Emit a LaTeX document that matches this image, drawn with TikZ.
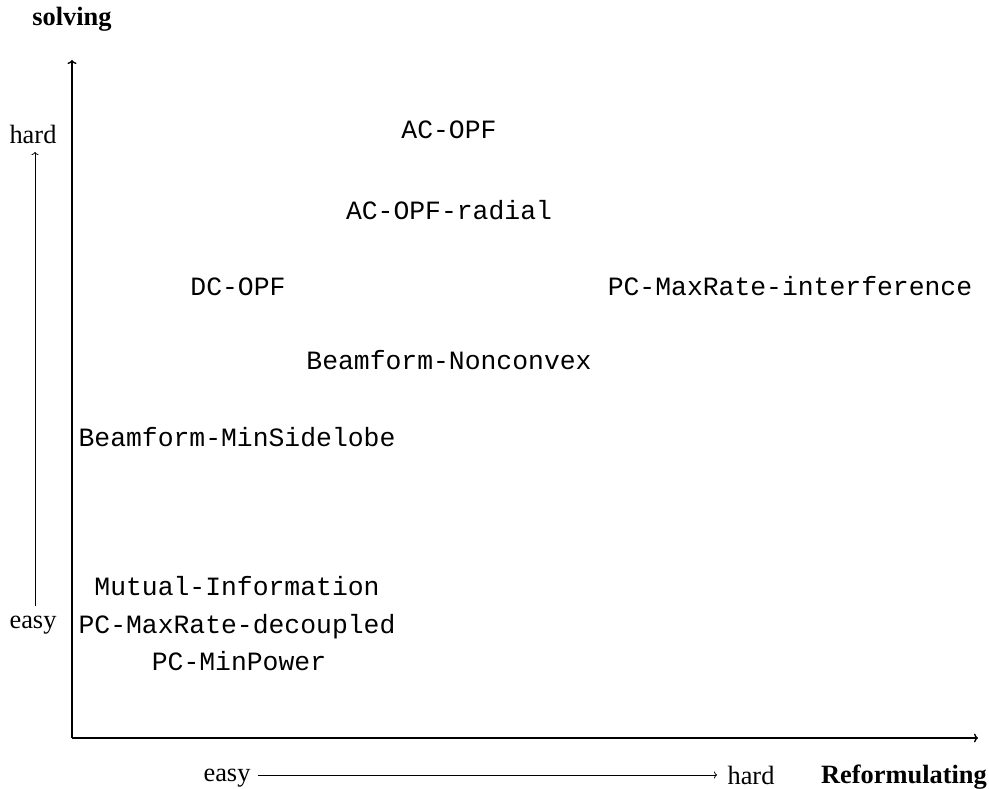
\documentclass[tikz,border=0pt]{standalone}
\usepackage{fontspec}
\setmainfont{Liberation Serif}
\setmonofont{Liberation Mono}
\usetikzlibrary{arrows.meta}
\begin{document}
\begin{tikzpicture}[x=1pt,y=-1pt,
  every node/.style={inner sep=0pt,outer sep=0pt,font=\fontsize{26.4}{30}\selectfont},
  prob/.style={anchor=base,font=\fontsize{26.4}{30}\selectfont\ttfamily},
  axislabel/.style={anchor=base,font=\fontsize{26.4}{30}\selectfont\bfseries},
  scalelabel/.style={anchor=base},
  mainaxis/.style={line width=1.4pt,-{To[length=4pt,width=9pt]}},
  scalearrow/.style={line width=0.8pt,-{To[length=3pt,width=7pt]}}]
\useasboundingbox (0,0) rectangle (989,789);
% axes
\coordinate (O) at (72,738);
\coordinate (ytip) at (72,60);
\coordinate (xtip) at (978,738);
\draw[mainaxis] (O) -- (ytip);
\draw[mainaxis] (O) -- (xtip);
\node[axislabel] (solving) at (72,26) {solving};
\node[axislabel] (reform) at (904,783) {Reformulating};
% vertical scale
\node[scalelabel] (vhard) at (33,144) {hard};
\node[scalelabel] (veasy) at (33,628) {easy};
\coordinate (vbot) at (35,606);
\coordinate (vtop) at (35,152);
\draw[scalearrow] (vbot) -- (vtop);
% horizontal scale
\node[scalelabel] (heasy) at (227,781) {easy};
\node[scalelabel] (hhard) at (751,784) {hard};
\coordinate (hl) at (258,775);
\coordinate (hr) at (717,775);
\draw[scalearrow] (hl) -- (hr);
% problems
\node[prob] (acopf) at (449,139) {AC-OPF};
\node[prob] (acopfr) at (449,219) {AC-OPF-radial};
\node[prob] (dcopf) at (238,295) {DC-OPF};
\node[prob] (pcint) at (790,295) {PC-MaxRate-interference};
\node[prob] (bfnc) at (449,369) {Beamform-Nonconvex};
\node[prob] (bfms) at (237,446) {Beamform-MinSidelobe};
\node[prob] (mi) at (237,595) {Mutual-Information};
\node[prob] (pcdec) at (237,633) {PC-MaxRate-decoupled};
\node[prob] (pcmin) at (239,670) {PC-MinPower};
\end{tikzpicture}
\end{document}
